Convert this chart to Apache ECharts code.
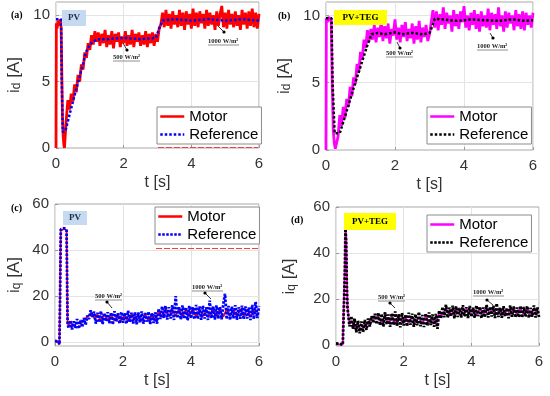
<!DOCTYPE html>
<html>
<head>
<meta charset="utf-8">
<script src="https://cdn.jsdelivr.net/npm/echarts@6/dist/echarts.min.js"></script>
<style>html,body{margin:0;padding:0;background:#fff;}#c{width:550px;height:396px;}</style>
</head>
<body>
<div id="c"></div>
<script>
// ---------- DATA ----------
const xTicks = [0, 2, 4, 6];
const yTicksD = [0, 5, 10];
const yTicksQ = [0, 20, 40, 60];
const NOISE_STEP = 0.05;
const SLOW_STEP = 0.1;

// (a) PV, i_d
const aMotorT = [0, 0.01, 0.03, 0.06, 0.09, 0.12, 0.15, 0.17, 0.19, 0.21, 0.23, 0.25];
const aMotorV = [0, 9.4, 9.0, 9.6, 9.2, 9.7, 9.3, 6.0, 2.5, 1.0, 0.3, 0.0];
const aMotorNoiseStart = 0.30;
const aMotorNoise = [2.0,3.6,2.9,4.1,3.5,4.8,4.2,5.5,5.0,6.3,5.9,7.2,6.8,7.9,7.4,8.5,7.8,8.8,8.0,
 8.7,7.7,8.6,7.9,8.9,7.6,8.5,7.8,8.8,7.5,8.6,8.0,8.7,7.6,8.4,7.9,8.8,7.7,8.5,7.8,8.9,7.6,8.6,8.0,8.7,7.7,8.5,7.8,8.8,7.6,8.6,7.9,8.7,7.7,8.6,
 8.0,9.0,9.3,
 10.2,9.1,10.4,9.2,10.1,9.0,10.3,9.3,10.0,9.1,10.4,9.2,10.2,8.9,10.3,9.3,10.1,9.0,10.5,9.2,10.2,9.1,10.3,9.4,10.1,9.0,10.4,9.2,10.2,9.3,10.0,8.9,10.3,9.2,10.1,10.7,9.1,10.2,9.0,10.4,9.3,10.1,9.1,10.3,9.2,10.0,8.9,10.4,9.3,10.2,9.0,10.3,9.2,10.5,9.1,10.2,9.0,10.1];
const aRefT = [0, 0.15, 0.17, 0.2, 0.28, 0.5, 0.7, 0.9, 1.0, 1.2, 1.5, 2.0, 2.5, 2.95, 3.05, 3.15, 3.5, 4.0, 4.5, 5.0, 5.5, 6.0];
const aRefV = [9.7, 9.7, 5.0, 1.2, 1.3, 3.5, 5.4, 7.3, 7.8, 8.2, 8.2, 8.3, 8.2, 8.3, 9.0, 9.6, 9.7, 9.6, 9.7, 9.6, 9.7, 9.6];

// (b) PV+TEG, i_d
const bMotorT = [0, 0.01, 0.04, 0.08, 0.12, 0.15, 0.18, 0.21, 0.24, 0.27, 0.30];
const bMotorV = [0, 9.8, 9.5, 9.9, 9.6, 9.8, 5.0, 1.5, 0.5, 0.1, 0.0];
const bMotorNoiseStart = 0.35;
const bMotorNoise = [1.0,2.6,1.8,3.2,2.4,3.8,3.2,4.7,4.0,5.4,4.9,6.4,5.8,7.3,6.7,8.2,7.6,8.9,8.1,9.0,
 8.2,9.3,8.0,9.1,8.4,9.6,8.1,9.2,8.3,9.4,7.9,9.0,8.5,9.7,8.2,9.1,8.0,9.3,8.4,9.5,8.1,9.0,8.3,9.4,7.9,9.2,8.2,9.6,8.0,9.1,8.4,9.3,8.1,
 8.6,9.5,10.4,
 9.1,10.3,8.9,10.1,9.3,10.6,9.0,10.2,9.4,10.0,8.8,10.4,9.2,10.1,9.0,10.3,9.5,10.7,9.1,10.0,8.9,10.2,9.3,10.4,9.0,10.1,8.8,10.3,9.2,10.0,9.1,10.5,8.9,10.2,9.3,10.1,9.0,10.6,9.2,10.0,8.8,10.3,9.1,10.2,9.4,10.0,8.9,10.4,9.2,10.1,9.0,10.3,8.9,10.2,9.3,10.0,9.1,10.2];
const bRefT = [0, 0.16, 0.19, 0.25, 0.4, 0.6, 0.8, 1.0, 1.2, 1.32, 1.5, 1.7, 2.0, 2.2, 2.5, 2.8, 3.0, 3.08, 3.15, 3.4, 3.8, 4.2, 4.6, 5.0, 5.4, 5.8, 6.0];
const bRefV = [9.8, 9.8, 5.0, 1.25, 1.25, 2.9, 4.6, 6.2, 7.8, 8.6, 8.7, 8.6, 8.75, 8.6, 8.7, 8.6, 8.7, 9.2, 9.75, 9.7, 9.6, 9.7, 9.65, 9.6, 9.7, 9.6, 9.65];

// (c) PV, i_q
const cMotorT = [0, 0.1, 0.13, 0.15, 0.17, 0.22, 0.27, 0.32, 0.34, 0.37, 0.4];
const cMotorV = [0.3, 0.2, -1.2, 25, 48.5, 49, 49.2, 49.5, 48.5, 9, 7];
const cMotorNoiseStart = 0.45;
const cMotorNoise = [8.5,7.0,8.5,8.0,9.5,11.0,12.5,10.5,12.0,9.0,12.2,9.5,11.8,9.2,12.0,9.4,11.9,9.0,12.3,9.6,11.7,9.1,12.1,9.3,11.8,9.5,
 13.5,11.0,14.5,11.2,14.0,11.5,14.3,11.1,14.1,11.4,14.4,11.0,14.2,11.3,14.0,11.6,14.5,11.2,14.1,11.0,14.3,11.4,14.0,11.1,14.4,11.3,14.2,11.0,14.1,11.5];
const cRefT = [0, 0.1, 0.13, 0.15, 0.17, 0.22, 0.27, 0.32, 0.34, 0.37, 0.4];
const cRefV = [0.5, 0.3, -1.0, 20, 49, 48.5, 49.5, 50, 49, 8, 6];
const cRefNoiseStart = 0.45;
const cRefNoise = [9.5,5.5,9.0,6.0,10.0,5.8,9.6,6.5,10.5,7.5,11.5,
 10.0,13.8,11.0,
 13.2,8.0,12.8,8.5,13.5,7.8,12.6,9.0,13.0,8.2,12.9,7.6,13.4,8.8,12.5,8.0,13.1,8.4,12.7,7.9,13.6,8.6,12.8,8.1,13.0,7.7,12.9,8.5,13.3,8.0,12.6,8.9,13.2,7.8,12.7,8.3,13.0,
 8.0,14.5,10.0,15.5,10.5,15.8,9.8,15.2,10.2,16.0,9.6,20.0,10.4,15.4,9.8,15.9,10.1,15.1,9.5,15.7,10.3,15.3,9.9,16.1,10.0,15.5,9.7,15.8,10.2,15.2,9.6,18.0,10.4,15.6,9.8,15.9,10.1,15.3,9.9,16.5,21.0,10.0,15.7,9.6,15.4,10.3,16.0,9.7,15.2,10.1,15.8,9.9,15.5,10.2,15.1,9.6,16.2,10.0,17.5,10.4,15.6];

// (d) PV+TEG, i_q
const dMotorT = [0, 0.2, 0.24, 0.26, 0.28, 0.3, 0.32, 0.34, 0.37, 0.4];
const dMotorV = [0.4, 0.1, 0.3, 35, 50, 48, 30, 17, 12, 9];
const dMotorNoiseStart = 0.45;
const dMotorNoise = [10.5,7.5,8.0,6.5,9.0,9.0,11.5,11.5,12.5,9.5,12.5,9.8,12.2,9.4,12.6,9.9,12.1,9.5,12.4,9.7,12.0,9.3,12.5,9.6,12.2,9.0,
 14.0,13.0,16.0,13.2,15.8,13.5,16.1,13.1,15.7,13.4,16.0,13.0,15.9,13.3,16.2,13.6,15.8,13.2,16.0,13.0,15.7,13.4,16.1,13.1,15.9,13.3,16.0,13.0,15.8,13.5];
const dRefT = [0, 0.05, 0.1, 0.15, 0.2, 0.24, 0.26, 0.28, 0.3, 0.32, 0.34, 0.37, 0.4];
const dRefV = [0.6, 0.8, 0.5, 0.3, 0.0, 0.5, 30, 50.5, 45, 25, 16, 12, 8];
const dRefNoiseStart = 0.45;
const dRefNoise = [12.5,7.0,11.5,5.5,10.5,5.0,10.2,5.5,10.8,6.5,11.5,8.0,12.5,9.5,13.5,
 9.0,14.0,8.5,13.5,8.0,14.2,8.8,13.2,7.8,13.8,8.6,14.5,8.2,13.4,7.6,13.9,8.4,13.1,8.0,14.0,8.7,13.6,7.9,13.3,8.5,14.3,8.1,13.0,7.7,13.7,8.3,14.1,8.6,13.2,7.9,13.5,
 7.0,15.0,11.5,16.5,12.0,17.5,11.8,16.2,12.3,17.0,11.6,16.8,12.1,16.0,11.9,17.3,12.4,16.4,11.7,16.9,12.2,16.1,11.8,17.1,12.5,16.6,11.6,16.3,12.0,17.4,11.9,16.5,12.3,17.0,11.7,18.0,12.1,16.2,11.8,16.8,12.4,16.0,11.6,17.2,12.2,16.7,11.9,16.3,12.0,17.0,11.8,16.5,12.3,16.9,11.7,16.1,12.2,17.1,11.9,16.4,12.1];

const legendNames = ['Motor', 'Reference'];
const panelLabels = ['(a)', '(b)', '(c)', '(d)'];
const sourceTags = ['PV', 'PV+TEG', 'PV', 'PV+TEG'];
const irrLabels = ['500 W/m²', '1000 W/m²'];

// ---------- BUILD ----------
function pairs(T, V) { return T.map((t, i) => [t, V[i]]); }
function sampled(t0, step, V) { return V.map((v, i) => [Math.round((t0 + i * step) * 1000) / 1000, v]); }
function joined(T, V, t0, step, N) { return pairs(T, V).concat(N ? sampled(t0, step, N) : []); }

const grids = [
  {left: 56, top: 2, width: 203, height: 146},
  {left: 326, top: 2, width: 207, height: 148},
  {left: 55, top: 204, width: 204, height: 142},
  {left: 336, top: 207, width: 203, height: 139}
];
const yCfg = [
  {min: 0, max: 11, ticks: yTicksD, name: 'd', gap: 33},
  {min: 0, max: 11, ticks: yTicksD, name: 'd', gap: 33},
  {min: -1.7, max: 60, ticks: yTicksQ, name: 'q', gap: 32},
  {min: -0.5, max: 60, ticks: yTicksQ, name: 'q', gap: 38}
];
const legendPos = [
  {left: 157, top: 107}, {left: 427, top: 107}, {left: 155, top: 207}, {left: 427, top: 215}
];
const motorColors = ['#ff0000', '#ff00ff', '#ff0000', '#ff00ff'];
const refColors = ['#0000ff', '#000000', '#0000ff', '#000000'];
const tagColors = ['#c5d9f1', '#ffff00', '#c5d9f1', '#ffff00'];
const keys = ['a', 'b', 'c', 'd'];

const motorData = [
  joined(aMotorT, aMotorV, aMotorNoiseStart, NOISE_STEP, aMotorNoise),
  joined(bMotorT, bMotorV, bMotorNoiseStart, NOISE_STEP, bMotorNoise),
  joined(cMotorT, cMotorV, cMotorNoiseStart, SLOW_STEP, cMotorNoise),
  joined(dMotorT, dMotorV, dMotorNoiseStart, SLOW_STEP, dMotorNoise)
];
const refData = [
  pairs(aRefT, aRefV),
  pairs(bRefT, bRefV),
  joined(cRefT, cRefV, cRefNoiseStart, NOISE_STEP, cRefNoise),
  joined(dRefT, dRefV, dRefNoiseStart, NOISE_STEP, dRefNoise)
];

const FONT = 'Liberation Sans, Arial, sans-serif';
const SERIF = 'Liberation Serif, Times New Roman, serif';
const TXT = '#333333';
const GRIDC = '#e4e4e4';

const xAxes = grids.map((g, i) => ({
  gridIndex: i, type: 'value', min: xTicks[0], max: xTicks[xTicks.length - 1], interval: 2,
  axisLine: {show: false, onZero: false},
  axisTick: {show: true, inside: true, length: 3, lineStyle: {color: '#9a9a9a'}},
  axisLabel: {fontSize: 15, color: TXT, margin: 8, fontFamily: FONT},
  splitLine: {show: true, lineStyle: {color: GRIDC, width: 1}},
  name: 't [s]', nameLocation: 'middle', nameGap: 27,
  nameTextStyle: {fontSize: 16, color: TXT, fontFamily: FONT}
}));
const yAxes = yCfg.map((c, i) => ({
  gridIndex: i, type: 'value', min: c.min, max: c.max,
  axisLine: {show: false, onZero: false},
  axisTick: {show: true, inside: true, length: 3, lineStyle: {color: '#9a9a9a'}, customValues: c.ticks},
  axisLabel: {fontSize: 15, color: TXT, margin: 6, fontFamily: FONT, customValues: c.ticks},
  splitLine: {show: false},
  name: '{m|i}{s|' + c.name + '}{m| [A]}', nameLocation: 'middle', nameGap: c.gap,
  nameTextStyle: {fontFamily: FONT, rich: {
    m: {fontSize: 17, color: TXT, fontFamily: FONT, verticalAlign: 'bottom', lineHeight: 22},
    s: {fontSize: 12, color: TXT, fontFamily: FONT, verticalAlign: 'bottom', lineHeight: 14, padding: [8, 0, 0, 0]}
  }}
}));

const series = [];
for (let i = 0; i < 4; i++) {
  series.push({
    name: 'Motor|' + keys[i], type: 'line', xAxisIndex: i, yAxisIndex: i,
    data: motorData[i], showSymbol: false, symbol: 'none', animation: false,
    lineStyle: {color: motorColors[i], width: i < 2 ? 2.8 : 1.8}, itemStyle: {color: motorColors[i]},
    clip: true,
    // horizontal grid lines at the tick values
    markLine: {
      silent: true, symbol: 'none', animation: false, z: 0,
      label: {show: false},
      lineStyle: {color: GRIDC, width: 1, type: 'solid'},
      data: yCfg[i].ticks.filter(v => v > yCfg[i].min && v < yCfg[i].max).map(v => ({yAxis: v}))
    }
  });
  series.push({
    name: 'Reference|' + keys[i], type: 'line', xAxisIndex: i, yAxisIndex: i,
    data: refData[i], showSymbol: false, symbol: 'none', animation: false,
    lineStyle: {color: refColors[i], width: i < 2 ? 2.5 : 2.8, type: i < 2 ? [2.5, 2] : [2.5, 1.5], cap: 'butt'},
    itemStyle: {color: refColors[i]},
    clip: true
  });
}

const legends = legendPos.map((p, i) => ({
  left: p.left, top: p.top, orient: 'vertical',
  data: legendNames.map(n => n + '|' + keys[i]),
  formatter: name => name.split('|')[0],
  backgroundColor: '#ffffff', borderColor: '#8c8c8c', borderWidth: 1, borderRadius: 0,
  padding: [2, 3, 2, 2], itemGap: 3, itemWidth: 24, itemHeight: 14,
  itemStyle: {color: 'rgba(0,0,0,0)', borderWidth: 0, opacity: 0},
  lineStyle: {width: 2.5},
  textStyle: {fontSize: 15, color: '#000', fontFamily: FONT},
  selectedMode: false
}));

// decorations
const tagBoxes = [
  {x: 62, y: 10, w: 24, h: 16}, {x: 334, y: 10, w: 53, h: 15},
  {x: 63, y: 211, w: 24, h: 14}, {x: 344, y: 213, w: 52, h: 17}
];
const labelPos = [{x: 11, y: 15}, {x: 278, y: 16}, {x: 11, y: 208}, {x: 291, y: 220}];
const irrPos = [
  [{x: 113, y: 57}, {x: 208, y: 41}],
  [{x: 386, y: 53}, {x: 477, y: 46}],
  [{x: 95, y: 296}, {x: 192, y: 287}],
  [{x: 378, y: 297}, {x: 473, y: 292}]
];
const arrows = [
  [[123, 43, 127, 50], [218, 26, 224, 32]],
  [[397, 42, 400, 48], [490, 33, 493, 38]],
  [[112, 308, 107, 302], [211, 299, 205, 293]],
  [[395, 308, 390, 303], [493, 305, 487, 300]]
];

const graphic = [];
for (let i = 0; i < 4; i++) {
  const b = tagBoxes[i];
  graphic.push({type: 'rect', left: b.x, top: b.y, shape: {width: b.w, height: b.h}, style: {fill: tagColors[i]}, z: 100});
  graphic.push({type: 'text', x: b.x + b.w / 2, y: b.y + b.h / 2, z: 101,
    style: {text: sourceTags[i], font: 'bold 9px ' + SERIF, fill: i % 2 === 0 ? '#1f2a44' : '#000', align: 'center', verticalAlign: 'middle'}});
  const l = labelPos[i];
  graphic.push({type: 'text', x: l.x, y: l.y, z: 101,
    style: {text: panelLabels[i], font: 'bold 10px ' + SERIF, fill: '#000', align: 'left', verticalAlign: 'middle'}});
  for (let k = 0; k < 2; k++) {
    const p = irrPos[i][k];
    const w = k === 0 ? 27 : 31;
    graphic.push({type: 'text', x: p.x, y: p.y, z: 101,
      style: {text: irrLabels[k], font: 'bold 6.5px ' + SERIF, fill: '#222', align: 'left', verticalAlign: 'middle'}});
    graphic.push({type: 'line', z: 101, shape: {x1: p.x, y1: p.y + 4, x2: p.x + w, y2: p.y + 4}, style: {stroke: '#444', lineWidth: 0.6}});
    const a = arrows[i][k];
    graphic.push({type: 'line', z: 101, shape: {x1: a[0], y1: a[1], x2: a[2], y2: a[3]}, style: {stroke: '#000', lineWidth: 0.8}});
    graphic.push({type: 'circle', z: 101, shape: {cx: a[2], cy: a[3], r: 1.6}, style: {fill: '#000'}});
  }
}
// red dashed remnants under legends in (a) and (c)
graphic.push({type: 'line', z: 50, shape: {x1: 158, y1: 147.5, x2: 258, y2: 147.5}, style: {stroke: '#ff3b3b', lineWidth: 1, lineDash: [6, 2]}});
graphic.push({type: 'line', z: 50, shape: {x1: 156, y1: 248.5, x2: 258, y2: 248.5}, style: {stroke: '#ff3b3b', lineWidth: 1, lineDash: [6, 2]}});

const option = {
  animation: false,
  backgroundColor: '#ffffff',
  grid: grids.map(g => Object.assign({show: true, borderColor: '#a8a8a8', borderWidth: 1, backgroundColor: 'transparent'}, g)),
  xAxis: xAxes,
  yAxis: yAxes,
  legend: legends,
  series: series,
  graphic: graphic
};
const chart = echarts.init(document.getElementById('c'), null, {renderer: 'canvas'});
chart.setOption(option);
</script>
</body>
</html>
